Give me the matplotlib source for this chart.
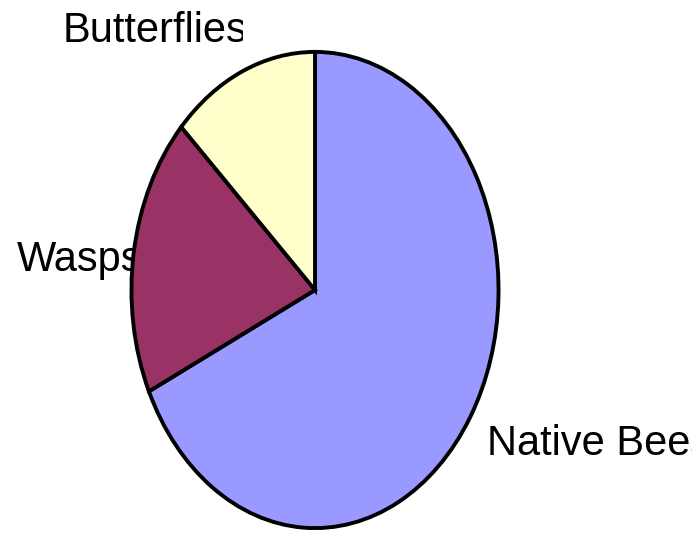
import matplotlib.pyplot as plt
from matplotlib.transforms import Bbox

labels = ["Native Bees", "Wasps", "Butterflies"]
shares = [68, 19, 13]
colors = ["#9999FF", "#993366", "#FFFFCC"]

fig = plt.figure(figsize=(7, 5.36), dpi=100)

# background axes in pixel coords, for the labels
bg = fig.add_axes([0, 0, 1, 1])
bg.set_xlim(0, 700)
bg.set_ylim(536, 0)
bg.axis("off")

label_pos = {"Butterflies": (63, 42), "Wasps": (17, 271), "Native Bees": (487, 455)}
# the original label boxes cut some words off at these x pixels
clip_right = {"Butterflies": 243, "Native Bees": 692}
for name in labels:
    x, y = label_pos[name]
    t = bg.text(x, y, name, fontsize=30, family="Liberation Sans",
                va="baseline", ha="left")
    if name in clip_right:
        t.set_clip_box(Bbox.from_extents(0, 0, clip_right[name], 536))
        t.set_clip_on(True)

# the pie sits on its own axes, stretched into an ellipse
ax = fig.add_axes([130 / 700, 6 / 536, 370 / 700, 480 / 536])
ax.pie(shares, colors=colors, startangle=90, counterclock=False,
       wedgeprops={"edgecolor": "black", "linewidth": 2.8})
ax.set_aspect("auto")
ax.set_xlim(-1.008, 1.008)
ax.set_ylim(-1.008, 1.008)
ax.axis("off")

fig.savefig("out.png", dpi=100)
